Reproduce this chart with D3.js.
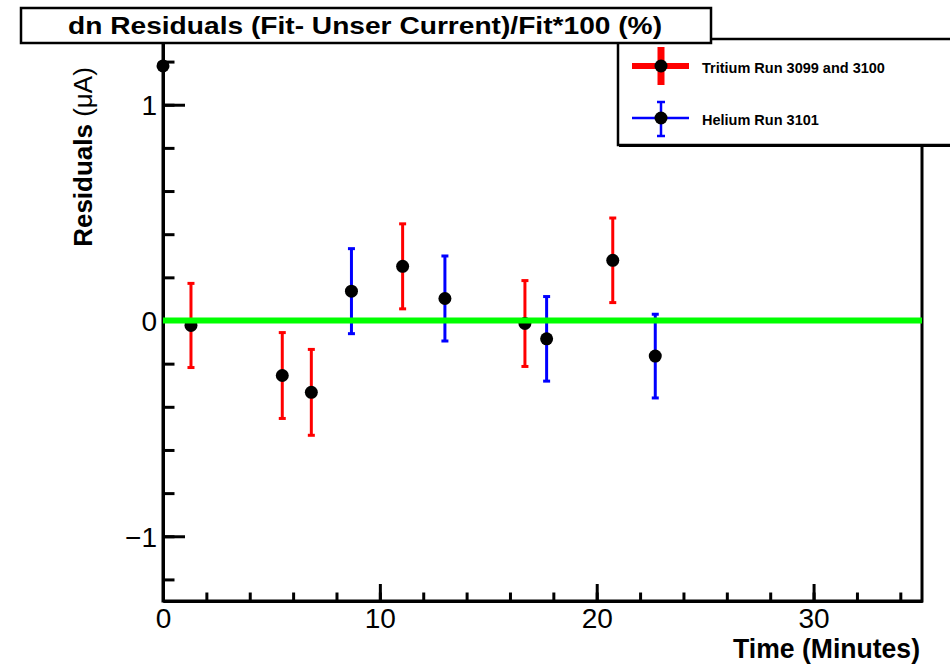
<!DOCTYPE html>
<html>
<head>
<meta charset="utf-8">
<script src="https://cdn.jsdelivr.net/npm/d3@7"></script>
<style>
  html, body { margin: 0; padding: 0; background: #fff; }
  svg { display: block; }
  text { font-family: "Liberation Sans", Arial, Helvetica, sans-serif; }
</style>
</head>
<body>
<svg id="chart" width="950" height="664"></svg>
<script>
// Residual measurements (minutes, µA) for each run
const tritiumTime  = [1.29, 5.50, 6.84, 11.05, 16.69, 20.74];
const tritiumResid = [-0.023, -0.255, -0.333, 0.251, -0.014, 0.279];
const tritiumErr   = [0.195, 0.199, 0.199, 0.197, 0.199, 0.196];

const heliumTime  = [8.69, 13.0, 17.69, 22.70];
const heliumResid = [0.136, 0.102, -0.085, -0.165];
const heliumErr   = [0.197, 0.197, 0.196, 0.194];

// lone point without an error bar
const extraTime  = [0];
const extraResid = [1.18];

const xDomain = [0, 35];
const yDomain = [-1.3, 1.3];
const xMajorTicks = [0, 10, 20, 30];
const yMajorTicks = [-1, 0, 1];
const xMinorTicks = d3.range(0, 35, 2);
const yMinorTicks = d3.range(-1.2, 1.21, 0.2).map(v => +v.toFixed(1));

const seriesNames = ["Tritium Run 3099 and 3100", "Helium Run 3101"];
const seriesColors = ["#ff0000", "#0000ff"];
const titleText = "dn Residuals (Fit- Unser Current)/Fit*100 (%)";

const svg = d3.select("#chart");
const plot = { left: 163, right: 922, top: 40, bottom: 601 };

const x = d3.scaleLinear().domain(xDomain).range([plot.left, plot.right]);
const y = d3.scaleLinear().domain(yDomain).range([plot.bottom, plot.top]);

// frame
svg.append("rect")
  .attr("x", plot.left).attr("y", plot.top)
  .attr("width", plot.right - plot.left).attr("height", plot.bottom - plot.top)
  .attr("fill", "none").attr("stroke", "#000").attr("stroke-width", 3);

const majorYLen = 22, minorYLen = 11.5, majorXLen = 17, minorXLen = 8.5;

// y axis: minor ticks, then major ticks with labels (ticks point inward)
const yMinor = svg.append("g").attr("transform", `translate(${plot.left},0)`)
  .call(d3.axisLeft(y).tickValues(yMinorTicks).tickSizeInner(-minorYLen).tickSizeOuter(0).tickFormat(""));
const yMajor = svg.append("g").attr("transform", `translate(${plot.left},0)`)
  .call(d3.axisLeft(y).tickValues(yMajorTicks).tickSizeInner(-majorYLen).tickSizeOuter(0)
    .tickPadding(6).tickFormat(d => d < 0 ? "\u2212" + Math.abs(d) : d));

// x axis
const xMinor = svg.append("g").attr("transform", `translate(0,${plot.bottom})`)
  .call(d3.axisBottom(x).tickValues(xMinorTicks).tickSizeInner(-minorXLen).tickSizeOuter(0).tickFormat(""));
const xMajor = svg.append("g").attr("transform", `translate(0,${plot.bottom})`)
  .call(d3.axisBottom(x).tickValues(xMajorTicks).tickSizeInner(-majorXLen).tickSizeOuter(0)
    .tickPadding(7).tickFormat(d3.format("d")));

[yMinor, yMajor, xMinor, xMajor].forEach(g => {
  g.select(".domain").attr("stroke", "#000").attr("stroke-width", 3);
  g.selectAll(".tick line").attr("stroke", "#000").attr("stroke-width", 3);
  g.selectAll(".tick text").attr("fill", "#000").attr("font-size", 28)
    .attr("font-family", "Liberation Sans, Arial, sans-serif");
});
yMajor.selectAll(".tick text").attr("dy", "0.36em");
xMajor.selectAll(".tick text").attr("dy", "0.72em");

// axis titles
svg.append("text")
  .attr("x", 920).attr("y", 658)
  .attr("text-anchor", "end")
  .attr("font-size", 27).attr("font-weight", "bold")
  .attr("textLength", 187).attr("lengthAdjust", "spacingAndGlyphs")
  .text("Time (Minutes)");

const yTitle = svg.append("text")
  .attr("transform", "translate(92,157) rotate(-90)")
  .attr("text-anchor", "middle")
  .attr("font-size", 26);
yTitle.append("tspan").attr("font-weight", "bold").text("Residuals ");
yTitle.append("tspan").text("(\u03bcA)");

// data series
const tritium = tritiumTime.map((t, i) => ({ t, r: tritiumResid[i], e: tritiumErr[i] }));
const helium  = heliumTime.map((t, i) => ({ t, r: heliumResid[i], e: heliumErr[i] }));
const extra   = extraTime.map((t, i) => ({ t, r: extraResid[i] }));

const capHalf = 3.5;
function drawErrors(data, color) {
  const g = svg.append("g").attr("stroke", color).attr("stroke-width", 3);
  g.selectAll("line.bar").data(data).join("line").attr("class", "bar")
    .attr("x1", d => x(d.t)).attr("x2", d => x(d.t))
    .attr("y1", d => y(d.r + d.e)).attr("y2", d => y(d.r - d.e));
  g.selectAll("line.capTop").data(data).join("line").attr("class", "capTop")
    .attr("x1", d => x(d.t) - capHalf).attr("x2", d => x(d.t) + capHalf)
    .attr("y1", d => y(d.r + d.e)).attr("y2", d => y(d.r + d.e));
  g.selectAll("line.capBot").data(data).join("line").attr("class", "capBot")
    .attr("x1", d => x(d.t) - capHalf).attr("x2", d => x(d.t) + capHalf)
    .attr("y1", d => y(d.r - d.e)).attr("y2", d => y(d.r - d.e));
}
drawErrors(tritium, seriesColors[0]);
drawErrors(helium, seriesColors[1]);

svg.append("g").selectAll("circle")
  .data([...tritium, ...helium, ...extra]).join("circle")
  .attr("cx", d => x(d.t)).attr("cy", d => y(d.r)).attr("r", 6.5)
  .attr("fill", "#000");

// zero reference line
svg.append("line")
  .attr("x1", x(xDomain[0])).attr("x2", x(xDomain[1]))
  .attr("y1", y(0)).attr("y2", y(0))
  .attr("stroke", "#00ff00").attr("stroke-width", 6);

// legend box
const leg = svg.append("g");
leg.append("rect").attr("x", 618).attr("y", 39).attr("width", 340).attr("height", 106)
  .attr("fill", "#fff").attr("stroke", "#000").attr("stroke-width", 2.5);
leg.append("line").attr("x1", 619).attr("x2", 958).attr("y1", 145.5).attr("y2", 145.5)
  .attr("stroke", "#000").attr("stroke-width", 3);

const legRows = [66, 118];
// tritium entry: thick cross
leg.append("line").attr("x1", 632).attr("x2", 689).attr("y1", legRows[0]).attr("y2", legRows[0])
  .attr("stroke", seriesColors[0]).attr("stroke-width", 6);
leg.append("line").attr("x1", 661).attr("x2", 661).attr("y1", 47).attr("y2", 85)
  .attr("stroke", seriesColors[0]).attr("stroke-width", 7);
// helium entry: thin cross with caps
leg.append("line").attr("x1", 632).attr("x2", 689).attr("y1", legRows[1]).attr("y2", legRows[1])
  .attr("stroke", seriesColors[1]).attr("stroke-width", 2.5);
leg.append("line").attr("x1", 661).attr("x2", 661).attr("y1", 102).attr("y2", 136)
  .attr("stroke", seriesColors[1]).attr("stroke-width", 2.5);
[102, 136].forEach(yy => leg.append("line")
  .attr("x1", 657).attr("x2", 665).attr("y1", yy).attr("y2", yy)
  .attr("stroke", seriesColors[1]).attr("stroke-width", 2.5));
legRows.forEach(yy => leg.append("circle").attr("cx", 661).attr("cy", yy).attr("r", 6.5).attr("fill", "#000"));
leg.selectAll("text.lab").data(seriesNames).join("text").attr("class", "lab")
  .attr("x", 702).attr("y", (d, i) => legRows[i] + 7)
  .attr("font-size", 14.5).attr("font-weight", "bold")
  .text(d => d);

// title box
svg.append("rect").attr("x", 21).attr("y", 8).attr("width", 690).attr("height", 35)
  .attr("fill", "#fff").attr("stroke", "#000").attr("stroke-width", 2.5);
svg.append("text")
  .attr("x", 68).attr("y", 34)
  .attr("font-size", 24).attr("font-weight", "bold")
  .attr("textLength", 594).attr("lengthAdjust", "spacingAndGlyphs")
  .text(titleText);
</script>
</body>
</html>
